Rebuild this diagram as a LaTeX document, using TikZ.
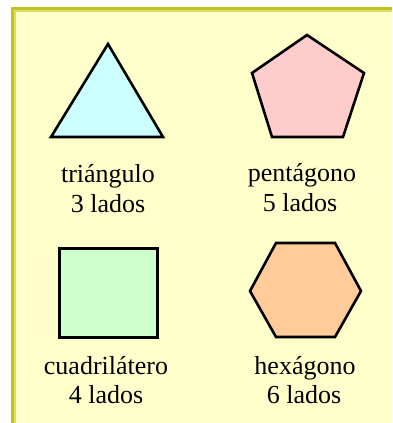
\documentclass[tikz,border=0pt]{standalone}
\usepackage{fontspec}
\setmainfont{Liberation Serif}
\definecolor{bgpale}{HTML}{FFFFCC}
\definecolor{borderdark}{HTML}{C4C420}
\definecolor{borderlight}{HTML}{E0E060}
\definecolor{trifill}{HTML}{CCFFFF}
\definecolor{pentfill}{HTML}{FFCCCC}
\definecolor{sqfill}{HTML}{CCFFCC}
\definecolor{hexfill}{HTML}{FFCC99}
\tikzset{
  shapeline/.style={draw=black, line width=2.6pt, line join=miter},
  label/.style={anchor=base, inner sep=0pt, font=\fontsize{26}{30}\selectfont, text=black}
}
\begin{document}
\begin{tikzpicture}[x=1pt,y=-1pt]
\useasboundingbox (0,0) rectangle (392,423);
\fill[white] (0,0) rectangle (392,423);
\fill[borderdark] (11,7) rectangle (392,423);
\fill[borderlight] (14,10) rectangle (392,423);
\fill[bgpale] (16,12) rectangle (392,423);
% triangle
\filldraw[shapeline, fill=trifill] (51,137) -- (163,137) -- (108,44) -- cycle;
% pentagon
\filldraw[shapeline, fill=pentfill] (307,35) -- (364,73) -- (343,137) -- (272,137) -- (252,73) -- cycle;
% square
\filldraw[shapeline, line width=3pt, fill=sqfill] (59,248) rectangle (157,337);
% hexagon
\filldraw[shapeline, fill=hexfill] (276,243) -- (335,243) -- (361,291) -- (335,337) -- (276,337) -- (250,291) -- cycle;
% labels
\node[label] (t1) at (108,182) {triángulo};
\node[label] (t2) at (108,212) {3 lados};
\node[label] (p1) at (302,181) {pentágono};
\node[label] (p2) at (300,211) {5 lados};
\node[label] (c1) at (106,374) {cuadrilátero};
\node[label] (c2) at (106,403) {4 lados};
\node[label] (h1) at (305,374) {hexágono};
\node[label] (h2) at (304,403) {6 lados};
\end{tikzpicture}
\end{document}
